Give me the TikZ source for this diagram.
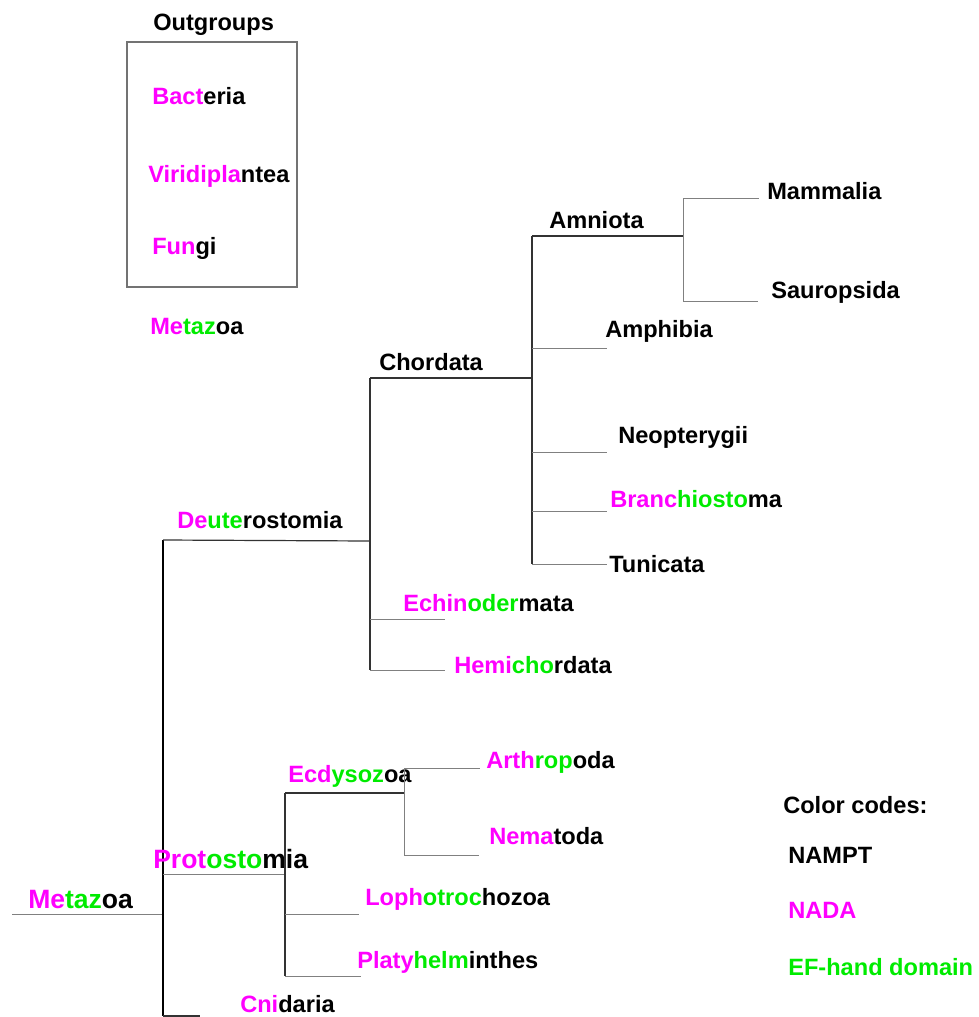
\documentclass[tikz,border=0pt]{standalone}
\usepackage{fontspec}
\setmainfont{Liberation Sans}
\usepackage{xcolor}
\usepackage{tikz}
\usetikzlibrary{positioning, calc}
\definecolor{nadapink}{RGB}{255, 0, 255}
\definecolor{efgreen}{RGB}{0, 235, 0}
\newcommand{\taxname}[3]{\textcolor{nadapink}{#1}\textcolor{efgreen}{#2}#3}

\begin{document}
\begin{tikzpicture}[x=0.75pt, y=-0.75pt,
    taxon/.style={anchor=base west, inner sep=0pt, font=\fontsize{17.7}{20}\selectfont\bfseries},
    bigtaxon/.style={taxon, font=\fontsize{19.9}{22}\selectfont\bfseries},
    trunk/.style={black, line width=1.5pt},
    stem/.style={black!80, line width=0.9pt},
    twig/.style={black!50, line width=0.7pt}]
    \useasboundingbox (0,0) rectangle (978,1017);

    % Outgroups (Box)
    \node[taxon] (outgroups) at (153,30) {Outgroups};
    \draw[black!55, line width=0.8pt] (127,42) rectangle (297,287);
    \node[taxon] (bacteria) at (152,104) {\taxname{Bact}{}{eria}};
    \node[taxon] (viridi) at (148,182) {\taxname{Viridipla}{}{ntea}};
    \node[taxon] (fungi) at (152,254) {\taxname{Fun}{}{gi}};
    \node[taxon] (metazoa) at (150,334) {\taxname{Me}{taz}{oa}};

    % Root and trunk
    \node[bigtaxon] (root) at (28,908) {\taxname{Me}{taz}{oa}};
    \coordinate (roottip) at (12,914);
    \coordinate (rootnode) at (163,914);
    \coordinate (deutbase) at (163,540);
    \coordinate (cnibase) at (163,1016);
    \coordinate (cnitip) at (200,1016);
    \draw[twig] (roottip) -- (rootnode);
    \draw[trunk] (deutbase) -- (cnibase);
    \draw[stem] (cnibase) -- (cnitip);
    \node[taxon] (cnidaria) at (240,1012) {\taxname{Cni}{}{daria}};

    % Deuterostomia
    \node[taxon] (deutero) at (177,528) {\taxname{De}{ute}{rostomia}};
    \coordinate (deut) at (370,541);
    \coordinate (chordbase) at (370,378);
    \coordinate (echitip) at (445,619);
    \coordinate (hemitip) at (445,670);
    \draw[stem] (deutbase) -- (deut);
    \draw[stem] (chordbase) -- (chordbase |- hemitip);
    \draw[twig] (chordbase |- echitip) -- (echitip);
    \draw[twig] (chordbase |- hemitip) -- (hemitip);
    \node[taxon] (echino) at (403,611) {\taxname{Echin}{oder}{mata}};
    \node[taxon] (hemi) at (454,673) {\taxname{Hemi}{cho}{rdata}};

    % Chordata
    \node[taxon] (chordata) at (379,370) {Chordata};
    \coordinate (chord) at (532,378);
    \coordinate (amniobase) at (532,236);
    \coordinate (amnio) at (683,236);
    \coordinate (amphtip) at (607,348);
    \coordinate (neoptip) at (607,452);
    \coordinate (branchtip) at (607,511);
    \coordinate (tunitip) at (607,564);
    \draw[stem] (chordbase) -- (chord);
    \draw[stem] (amniobase) -- (chord |- tunitip);
    \draw[stem] (amniobase) -- (amnio);
    \foreach \tip in {amphtip, neoptip, branchtip, tunitip} {
        \draw[twig] (chord |- \tip) -- (\tip);
    }
    \node[taxon] (amphibia) at (605,337) {Amphibia};
    \node[taxon] (neoptery) at (618,443) {Neopterygii};
    \node[taxon] (branchio) at (610,507) {\taxname{Branc}{hiosto}{ma}};
    \node[taxon] (tunicata) at (609,572) {Tunicata};

    % Amniota
    \node[taxon] (amniota) at (549,228) {Amniota};
    \coordinate (mammtip) at (759,198);
    \coordinate (saurtip) at (758,301);
    \draw[twig] (amnio |- mammtip) -- (amnio |- saurtip);
    \draw[twig] (amnio |- mammtip) -- (mammtip);
    \draw[twig] (amnio |- saurtip) -- (saurtip);
    \node[taxon] (mammalia) at (767,199) {Mammalia};
    \node[taxon] (sauro) at (771,298) {Sauropsida};

    % Protostomia
    \node[bigtaxon] (protosto) at (153,868) {\taxname{Prot}{osto}{mia}};
    \coordinate (protobase) at (163,874);
    \coordinate (proto) at (285,874);
    \coordinate (ecdybase) at (285,793);
    \coordinate (lophtip) at (359,914);
    \coordinate (platytip) at (361,976);
    \draw[twig] (protobase) -- (proto);
    \draw[stem] (ecdybase) -- (ecdybase |- platytip);
    \draw[twig] (ecdybase |- lophtip) -- (lophtip);
    \draw[twig] (ecdybase |- platytip) -- (platytip);
    \node[taxon] (lopho) at (365,905) {\taxname{Loph}{otroc}{hozoa}};
    \node[taxon] (platy) at (357,968) {\taxname{Platy}{helm}{inthes}};

    % Ecdysozoa
    \node[taxon] (ecdyso) at (288,782) {\taxname{Ecd}{ysoz}{oa}};
    \coordinate (ecdy) at (404,793);
    \coordinate (arthtip) at (480,768);
    \coordinate (nematip) at (479,855);
    \draw[stem] (ecdybase) -- (ecdy);
    \draw[twig] (ecdy |- arthtip) -- (ecdy |- nematip);
    \draw[twig] (ecdy |- arthtip) -- (arthtip);
    \draw[twig] (ecdy |- nematip) -- (nematip);
    \node[taxon] (arthro) at (486,768) {\taxname{Arth}{rop}{oda}};
    \node[taxon] (nemato) at (489,844) {\taxname{Nema}{}{toda}};

    % Color codes (Legend)
    \node[taxon] (codes) at (783,813) {Color codes:};
    \foreach \txt/\col/\y [count=\i] in {NAMPT/black/863, NADA/nadapink/918, EF-hand domain/efgreen/975} {
        \node[taxon, text=\col] (code\i) at (788,\y) {\txt};
    }
\end{tikzpicture}
\end{document}
